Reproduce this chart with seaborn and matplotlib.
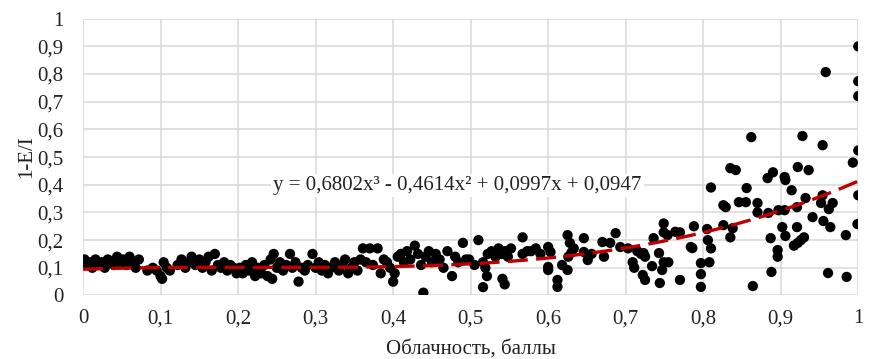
import numpy as np
import pandas as pd
import matplotlib
matplotlib.use("Agg")
import matplotlib.pyplot as plt
import seaborn as sns
from matplotlib.ticker import FuncFormatter, MultipleLocator

# ---- data ----
cloud_x = [
    0.000, 0.002, 0.005, 0.008, 0.012, 0.016, 0.020, 0.024, 0.028, 0.032, 0.036, 0.040, 0.044, 0.048,
    0.052, 0.056, 0.060, 0.064, 0.068, 0.072, 0.083, 0.090, 0.095, 0.100, 0.102, 0.104, 0.108, 0.112,
    0.122, 0.127, 0.132, 0.136, 0.140, 0.145, 0.150, 0.154, 0.158, 0.162, 0.166, 0.170, 0.174, 0.178,
    0.182, 0.186, 0.190, 0.194, 0.198,
    0.202, 0.206, 0.210, 0.214, 0.218, 0.222, 0.226, 0.230, 0.234, 0.238, 0.242, 0.244, 0.246, 0.250,
    0.254, 0.258, 0.262, 0.267, 0.270, 0.274, 0.278, 0.282, 0.286, 0.290, 0.296, 0.300,
    0.304, 0.308, 0.312, 0.316, 0.320, 0.325, 0.330, 0.334, 0.338, 0.342, 0.346, 0.350, 0.354, 0.358,
    0.361, 0.365, 0.370, 0.374, 0.380, 0.384, 0.388, 0.392, 0.396, 0.400,
    0.402, 0.406, 0.410, 0.414, 0.418, 0.422, 0.428, 0.432, 0.436, 0.439, 0.442, 0.446, 0.450, 0.455,
    0.460, 0.465, 0.470, 0.476, 0.480, 0.484, 0.490, 0.494, 0.498,
    0.505, 0.510, 0.516, 0.519, 0.521, 0.516, 0.522, 0.527, 0.532, 0.536, 0.540, 0.544, 0.548, 0.552,
    0.541, 0.544, 0.567, 0.567, 0.573, 0.578, 0.584, 0.590, 0.600, 0.603, 0.600, 0.600,
    0.612, 0.612, 0.618, 0.625, 0.625, 0.628, 0.633, 0.630, 0.626, 0.646, 0.646, 0.651, 0.656, 0.670,
    0.672, 0.680, 0.687, 0.693, 0.703,
    0.709, 0.711, 0.715, 0.720, 0.722, 0.725, 0.723, 0.725, 0.734, 0.736, 0.743, 0.744, 0.747, 0.749,
    0.749, 0.749, 0.754, 0.755, 0.764, 0.770, 0.770, 0.784, 0.786, 0.788, 0.797, 0.797, 0.797, 0.805,
    0.806, 0.810, 0.808, 0.810, 0.826, 0.826, 0.829,
    0.835, 0.842, 0.856, 0.846, 0.855, 0.838, 0.835, 0.862, 0.870, 0.870, 0.884, 0.883, 0.890, 0.887,
    0.896, 0.896, 0.888, 0.864, 0.897, 0.905, 0.902, 0.906, 0.905, 0.906, 0.914, 0.921, 0.921, 0.917,
    0.922, 0.926, 0.930, 0.922, 0.928, 0.936, 0.932, 0.941, 0.954, 0.954, 0.952, 0.962, 0.967, 0.955,
    0.964, 0.961, 0.984, 0.985, 0.993, 1.000, 1.000, 0.999, 1.000, 0.958, 1.000, 1.000,
]
ratio_y = [
    0.12, 0.13, 0.11, 0.12, 0.10, 0.13, 0.11, 0.12, 0.10, 0.13, 0.12, 0.11, 0.14, 0.12,
    0.13, 0.11, 0.14, 0.12, 0.10, 0.13, 0.09, 0.10, 0.09, 0.07, 0.06, 0.12, 0.10, 0.09,
    0.11, 0.13, 0.10, 0.12, 0.14, 0.11, 0.13, 0.10, 0.12, 0.14, 0.09, 0.15, 0.11, 0.10,
    0.12, 0.09, 0.11, 0.10, 0.08,
    0.10, 0.08, 0.11, 0.09, 0.12, 0.07, 0.10, 0.08, 0.11, 0.07, 0.13, 0.06, 0.15, 0.10,
    0.12, 0.09, 0.11, 0.15, 0.10, 0.12, 0.05, 0.10, 0.09, 0.11, 0.15, 0.10,
    0.12, 0.09, 0.11, 0.08, 0.10, 0.12, 0.09, 0.11, 0.13, 0.08, 0.10, 0.12, 0.09, 0.13,
    0.17, 0.12, 0.17, 0.11, 0.17, 0.08, 0.13, 0.12, 0.10, 0.05,
    0.08, 0.14, 0.15, 0.12, 0.16, 0.13, 0.18, 0.15, 0.11, 0.01, 0.14, 0.16, 0.12, 0.15,
    0.13, 0.10, 0.16, 0.07, 0.14, 0.12, 0.19, 0.13, 0.13,
    0.11, 0.20, 0.12, 0.10, 0.07, 0.03, 0.15, 0.16, 0.14, 0.17, 0.15, 0.16, 0.14, 0.17,
    0.06, 0.04, 0.21, 0.15, 0.16, 0.16, 0.17, 0.15, 0.175, 0.157, 0.103, 0.092,
    0.056, 0.031, 0.11, 0.092, 0.218, 0.19, 0.17, 0.155, 0.14, 0.207, 0.157, 0.128, 0.15, 0.193,
    0.14, 0.19, 0.225, 0.175, 0.17,
    0.12, 0.10, 0.16, 0.15, 0.074, 0.056, 0.153, 0.14, 0.106, 0.207, 0.153, 0.045, 0.092, 0.26,
    0.228, 0.12, 0.218, 0.12, 0.23, 0.228, 0.056, 0.175, 0.171, 0.25, 0.117, 0.077, 0.031, 0.24,
    0.20, 0.17, 0.12, 0.39, 0.326, 0.254, 0.319,
    0.46, 0.453, 0.388, 0.337, 0.337, 0.243, 0.21, 0.572, 0.334, 0.30, 0.298, 0.424, 0.445, 0.207,
    0.164, 0.14, 0.085, 0.034, 0.308, 0.308, 0.247, 0.215, 0.428, 0.417, 0.38, 0.319, 0.247, 0.18,
    0.19, 0.20, 0.21, 0.464, 0.576, 0.453, 0.352, 0.283, 0.543, 0.362, 0.334, 0.312, 0.334, 0.269,
    0.247, 0.081, 0.218, 0.067, 0.48, 0.524, 0.362, 0.258, 0.90, 0.807, 0.774, 0.72,
]
# cubic trend coefficients as printed on the chart (highest power first)
trend_coef = [0.6802, -0.4614, 0.0997, 0.0947]
trend_label = "y = 0,6802x³ - 0,4614x² + 0,0997x + 0,0947"
x_title = "Облачность, баллы"
y_title = "1-E/I"

df = pd.DataFrame({"x": cloud_x, "y": ratio_y})
tx = np.linspace(0, 1, 200)
trend = pd.DataFrame({"x": tx, "y": np.polyval(trend_coef, tx)})

sns.set_theme(style="white")
plt.rcParams["font.family"] = ["Liberation Serif", "DejaVu Serif"]

fig = plt.figure(figsize=(8.74, 3.59), dpi=100)
ax = fig.add_axes([0.095, 0.177, 0.887, 0.771])

sns.scatterplot(data=df, x="x", y="y", ax=ax, color="black", s=55,
                edgecolor="none", linewidth=0, zorder=3)
sns.lineplot(data=trend, x="x", y="y", ax=ax, color="#c00000", linewidth=2.4,
             dashes=False, zorder=4)
ax.lines[-1].set_linestyle((0, (6.0, 2.5)))

ax.set_xlim(0, 1)
ax.set_ylim(0, 1)
ax.xaxis.set_major_locator(MultipleLocator(0.1))
ax.yaxis.set_major_locator(MultipleLocator(0.1))
fmt = FuncFormatter(lambda v, p: ("%g" % round(v, 1)).replace(".", ","))
ax.xaxis.set_major_formatter(fmt)
ax.yaxis.set_major_formatter(fmt)
ax.grid(True, color="#d9d9d9", linewidth=1.1, zorder=0)
ax.set_axisbelow(True)
for s in ax.spines.values():
    s.set_visible(False)
ax.tick_params(axis="both", length=0, labelsize=15, colors="#222222")
ax.tick_params(axis="y", pad=14)
ax.tick_params(axis="x", pad=10)
ax.set_xlabel(x_title, fontsize=15, color="#222222", labelpad=8)
ax.set_ylabel(y_title, fontsize=15, color="#222222", labelpad=1)

ax.text(0.483, 0.397, trend_label, fontsize=15, color="#222222", ha="center",
        va="center", zorder=5,
        bbox=dict(facecolor="white", edgecolor="none", pad=1.5))

fig.savefig("out.png", dpi=100)
